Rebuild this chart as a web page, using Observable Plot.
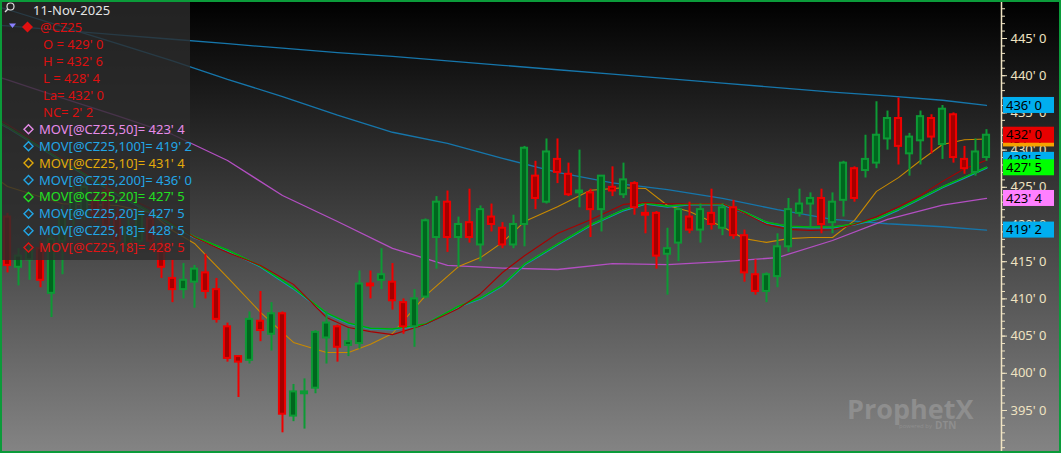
<!DOCTYPE html>
<html><head><meta charset="utf-8">
<script src="https://cdn.jsdelivr.net/npm/d3@7"></script>
<script src="https://cdn.jsdelivr.net/npm/@observablehq/plot@0.6"></script>
<style>
html,body{margin:0;padding:0;background:#000;overflow:hidden}
#wrap{position:relative;width:1061px;height:453px;background:linear-gradient(to bottom,#000 0%,#848484 100%);}
#wrap svg{display:block}
</style></head><body><div id="wrap"></div>
<script>
// ---- candle data (cents, @CZ25 daily) ----
const opens  = [421,414.25,415.25,416.75,410.75,417.75,421.25,421.5,423.25,424.5,421.25,417.25,417.75,420.75,417.25,412.75,411.25,412.25,413.5,411.25,406.25,402.25,401.75,407,405.25,408,394.25,397.25,398,404.75,406.25,403.75,404,412,412.5,412.25,409.5,406.25,410.25,418.25,423,418.25,420.25,417.25,421,419.5,417.25,420,426.5,423,428.75,426.75,424.25,424.25,422,425,424,425.5,421.5,421.5,416,417.5,421,419.25,421.5,419.5,422.25,418.5,413.25,411,413,417,421.5,422.75,423.5,420.25,423.25,427.5,427.25,428.25,431.5,434.25,429.5,431.25,434.25,430.75,434.75,428.75,427,429];
const highs  = [421.5,416.75,417.5,417.75,419.5,422.5,425.25,426,424.5,425.75,422.25,420.75,422.5,421.75,418.5,415.25,414.75,414.5,416,412.75,406.75,402.25,408.25,411,409.5,408.25,398.5,399.25,405.75,408.25,406.5,406,413.75,413.75,416.75,414.75,410,411.25,420.75,423.75,424.5,421,424.75,422.5,422.75,420.25,421.25,430.5,428.5,431.5,431.5,428.25,430,424.75,426.5,427.75,428.25,425.75,422.75,421.75,419.5,422.25,423,422.75,424.75,422.75,423.25,419.25,415.25,413.5,418.75,423.5,424.75,424.25,424.75,424.25,428.5,427.75,432,436.5,435.25,437,432.25,435.25,434.75,436,435,430.5,431.5,432.75];
const lows   = [413.5,411.75,412.5,411.5,407.5,413.25,419.75,420.5,420.25,419,416.5,416.25,417,416.75,412.75,409.5,410,408.75,410,406.75,401.5,396.75,401.25,404.25,403,392,393.5,392.5,397.25,401.25,401.5,402.25,403.25,410,411.25,408.5,405.25,403.5,410,414,416.25,414.25,417.5,415,419,416.75,416.75,417,422,422.75,425.5,423.75,422.25,418.25,419,423.75,423.5,421.25,418.75,414,410.5,415,418.75,417.5,419.25,418.5,418,412.25,410.5,409.5,411.5,416.25,421,419.5,418.75,418.75,421,423,426.25,427.5,430,428,426.5,428,429.5,428.75,428.25,426.75,426.5,428.5];
const closes = [414.5,415.75,416.5,412.5,418,421.25,424,425,421.25,419.75,417.75,419.5,421.5,417.75,414.25,411.25,412.5,414,411,407.25,402,401.5,407.25,405.75,408,394.5,397.5,397.5,405.5,406.75,403.5,404.25,412,411.75,413.25,409.75,406.25,410,420.5,423,418.25,420,418.25,422,420,417.25,420,430.25,423.5,429.75,427,424,424.5,422,426.5,424.5,426,422.25,421.25,415.75,416.75,422,419.25,422,420,422.25,418.5,413.5,411,413.25,417,422,422.75,423.5,420,423,428.25,423.5,428.75,432,434.25,430.5,431.75,434.5,431.75,435.5,429,427.5,429.75,432];

// ---- moving averages (bar index -> value) ----
const maIdxSlow = [-1,0,5,10,15,20,25,30,35,40,45,50,55,60,65,70,75,80,85,89];
const ma200 = [446.8,446.7,446.1,445.5,444.9,444.3,443.7,443.1,442.6,442.0,441.4,440.8,440.2,439.6,439.0,438.4,437.8,437.3,436.7,436.0];
const ma100 = [449.3,448.9,446.6,444.3,442.0,439.5,437.2,434.7,432.4,430.9,428.9,427.0,425.6,424.7,423.5,422.0,420.7,420.1,419.7,419.25];
const ma50  = [439.9,439.45,437.0,434.6,432.1,428.6,423.9,420.4,416.8,414.5,414.15,413.95,414.75,414.6,415.0,415.55,417.85,420.7,422.6,423.5];
const maIdxFast = [-1,0,5,10,13,15,17,20,23,26,29,31,33,35,38,41,43,45,47,50,53,56,58,60,62,65,67,69,71,73,75,77,79,81,83,85,87,89];
const ma10 = [426.2,425.1,422.8,422.55,421.6,419.2,417.45,412.9,408.2,404.15,402.8,402.8,403.9,405.35,410.45,414.35,415.55,417.6,420.4,422.4,424.6,424.95,424.85,422.55,421.75,419.7,418.1,417.6,418.1,418.25,418.25,420.55,424.45,426.3,428.6,430.75,431.4,431.5];
const ma20 = [433.85,433.05,428.5,424.0,421.6,419.9,418.25,416.5,414.35,411.4,408.05,406.7,406.0,405.9,406.55,408.95,410.05,411.8,414.6,417.3,419.9,421.9,422.8,422.4,422.7,422.7,421.6,420.25,419.7,419.6,419.6,420.0,420.7,422.0,423.5,425.0,426.3,427.625];
const ma18 = [434.25,433.45,428.9,424.3,422.15,420.15,418.25,416.25,414.5,411.95,407.5,406.15,405.6,405.2,406.55,408.7,410.7,413.55,415.8,418.8,420.65,422.7,422.95,422.8,422.8,422.8,421.5,420.0,419.35,419.2,419.3,420.0,421.05,422.4,423.9,425.8,427.5,428.625];

// ---- axis ticks ----
const majorTicks = [395,400,405,410,415,420,425,430,435,440,445];
const minorTicks = d3.range(389,451);

const symbol = "@CZ25";
const dateLabel = "11-Nov-2025";

// ---- helpers ----
const fmt = v => { const neg = v < 0; v = Math.abs(v); let n = Math.floor(v + 1e-9); let e = Math.round((v - n) * 8); if (e === 8) { n++; e = 0; } return `${neg ? "-" : ""}${n}' ${e}`; };
const last = a => a[a.length - 1];
const N = closes.length;
const candles = d3.range(N).map(i => ({i, o: opens[i], h: highs[i], l: lows[i], c: closes[i], up: closes[i] >= opens[i]}));
const rows = (idx, vals) => idx.map((i, k) => ({i, v: vals[k]}));

const X0 = -0.637, X1 = N + 0.365;
const Y0 = 389.22, Y1 = 450.11;
const UP = "#0d9a35", UPF = "#00661e", DN = "#f00000", DNF = "#a40000";
const AX = "#efe3c2";

const plot = Plot.plot({
  width: 1061, height: 453,
  marginTop: 0, marginBottom: 0, marginLeft: 0, marginRight: 60,
  style: {background: "transparent", fontFamily: "Noto Sans, sans-serif", fontSize: "13px"},
  x: {domain: [X0, X1], axis: null},
  y: {domain: [Y0, Y1], axis: null},
  marks: [
    Plot.line(rows(maIdxSlow, ma200), {x: "i", y: "v", stroke: "#1676ab", strokeWidth: 1.3, clip: true}),
    Plot.line(rows(maIdxSlow, ma100), {x: "i", y: "v", stroke: "#1676ab", strokeWidth: 1.3, clip: true}),
    Plot.line(rows(maIdxSlow, ma50), {x: "i", y: "v", stroke: "#b34fc2", strokeWidth: 1.3, clip: true}),
    Plot.line(rows(maIdxFast, ma10), {x: "i", y: "v", stroke: "#c98a00", strokeWidth: 1.1, clip: true}),
    Plot.line(rows(maIdxFast, ma20), {x: "i", y: "v", stroke: "#138fc4", strokeWidth: 2.2, clip: true}),
    Plot.line(rows(maIdxFast, ma20), {x: "i", y: "v", stroke: "#00b000", strokeWidth: 1.5, dy: -0.5, clip: true}),
    Plot.line(rows(maIdxFast, ma18), {x: "i", y: "v", stroke: "#a80000", strokeWidth: 1.1, clip: true}),
    Plot.ruleX(candles, {x: "i", y1: "l", y2: "h", stroke: d => d.up ? UP : DN, strokeWidth: 2}),
    Plot.rect(candles, {x1: d => d.i - 0.28, x2: d => d.i + 0.28, y1: d => Math.min(d.o, d.c), y2: d => Math.max(d.o, d.c),
      fill: d => d.up ? UPF : DNF, stroke: d => d.up ? UP : DN, strokeWidth: 2}),
    Plot.ruleX([X1], {stroke: AX, strokeWidth: 1.5}),
    Plot.axisY(minorTicks, {anchor: "right", tickSize: 3, tickFormat: () => "", color: AX}),
    Plot.axisY(majorTicks, {anchor: "right", tickSize: 5, tickPadding: 4, tickFormat: fmt, color: AX, fontSize: 13})
  ]
});
document.getElementById("wrap").appendChild(plot);

const ys = plot.scale("y"), xs = plot.scale("x");
const svg = d3.select(plot);
const xAxis = xs.apply(X1);

// price tags on the right axis
const tags = [
  {v: last(ma200), color: "#00aeef"},
  {v: last(ma10), color: "#f5a300"},
  {v: last(ma18), color: "#00aeef"},
  {v: closes[N - 1], color: "#e80000"},
  {v: last(ma20), color: "#00ff00"},
  {v: last(ma50), color: "#ff80ff"},
  {v: last(ma100), color: "#00aeef"}
];
const tg = svg.append("g").attr("text-anchor", "start");
tags.forEach(t => {
  const y = ys.apply(t.v);
  tg.append("rect").attr("x", xAxis + 2).attr("y", y - 8).attr("width", 51).attr("height", 16).attr("fill", t.color);
  tg.append("text").attr("x", xAxis + 5).attr("y", y).attr("dy", "0.35em").attr("fill", "#000")
    .style("font", "13px 'Noto Sans', sans-serif").text(fmt(t.v));
});

// legend box
const lg = svg.append("g").attr("text-anchor", "start").style("font", "13px 'Noto Sans', sans-serif");
lg.append("rect").attr("x", 0).attr("y", 0).attr("width", 190).attr("height", 260).attr("fill", "#2c2c2c").attr("fill-opacity", 0.8);
lg.append("circle").attr("cx", 10.5).attr("cy", 6.5).attr("r", 3.5).attr("fill", "none").attr("stroke", "#ddd").attr("stroke-width", 1.2);
lg.append("line").attr("x1", 8).attr("y1", 9).attr("x2", 5).attr("y2", 12).attr("stroke", "#ddd").attr("stroke-width", 1.5);
lg.append("text").attr("x", 33).attr("y", 10.7).attr("dy", "0.35em").attr("fill", "#e4e4e4").text(dateLabel);
lg.append("path").attr("d", "M9,23.5 L16,23.5 L12.5,28 Z").attr("fill", "#8a80ff");
lg.append("path").attr("d", "M27.5,21.5 L33,27 L27.5,32.5 L22,27 Z").attr("fill", "#e01010");
const RED = "#dc1010";
lg.append("text").attr("x", 40).attr("y", 27.3).attr("dy", "0.35em").attr("fill", RED).text(symbol);
const oh = [
  `O = ${fmt(opens[N - 1])}`,
  `H = ${fmt(highs[N - 1])}`,
  `L = ${fmt(lows[N - 1])}`,
  `La= ${fmt(closes[N - 1])}`,
  `NC= ${fmt(closes[N - 1] - closes[N - 2])}`
];
oh.forEach((s, k) => lg.append("text").attr("x", 43).attr("y", 44.3 + k * 17).attr("dy", "0.35em").attr("fill", RED).text(s));
const maLegend = [
  {name: "MOV[@CZ25,50]", v: last(ma50), color: "#e68be9"},
  {name: "MOV[@CZ25,100]", v: last(ma100), color: "#22a6e6"},
  {name: "MOV[@CZ25,10]", v: last(ma10), color: "#e2aa0a"},
  {name: "MOV[@CZ25,200]", v: last(ma200), color: "#22a6e6"},
  {name: "MOV[@CZ25,20]", v: last(ma20), color: "#22e022"},
  {name: "MOV[@CZ25,20]", v: last(ma20), color: "#22a6e6"},
  {name: "MOV[@CZ25,18]", v: last(ma18), color: "#22a6e6"},
  {name: "MOV[@CZ25,18]", v: last(ma18), color: "#e01414"}
];
maLegend.forEach((m, k) => {
  const y = 129.3 + k * 16.9;
  lg.append("path").attr("d", `M28.5,${y - 4.5} L33,${y} L28.5,${y + 4.5} L24,${y} Z`).attr("fill", "none").attr("stroke", m.color).attr("stroke-width", 1.4);
  lg.append("text").attr("x", 39).attr("y", y).attr("dy", "0.35em").attr("fill", m.color).text(`${m.name}= ${fmt(m.v)}`);
});

// watermark
const wm = svg.append("g").attr("text-anchor", "start").attr("fill", "#8e8e8e");
wm.append("text").attr("x", 847).attr("y", 419).style("font", "bold 27px 'Open Sans', sans-serif").text("ProphetX");
wm.append("text").attr("x", 899).attr("y", 428).style("font", "6px 'Open Sans', sans-serif").text("powered by");
wm.append("text").attr("x", 935).attr("y", 429).style("font", "bold 10px 'Open Sans', sans-serif").text("DTN");

// window frame
svg.append("rect").attr("x", 1).attr("y", 1).attr("width", 1059).attr("height", 451).attr("fill", "none").attr("stroke", "#0b9b3a").attr("stroke-width", 2);
</script>
</body></html>
